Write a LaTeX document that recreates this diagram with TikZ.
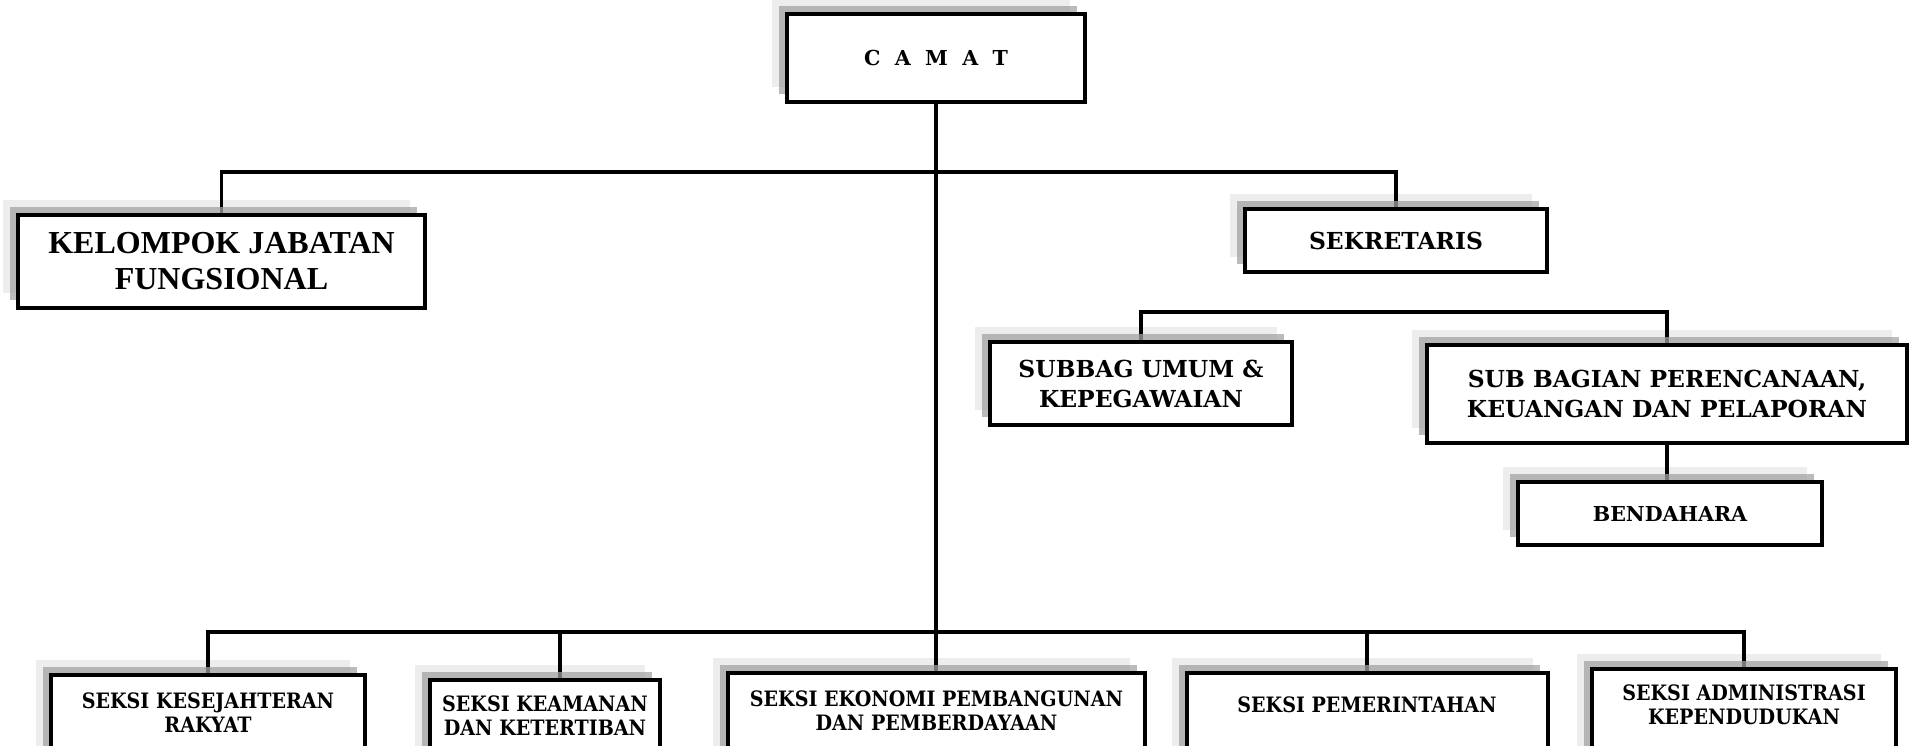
\documentclass[tikz,border=0pt]{standalone}
\usepackage{fontspec}
\setmainfont{DejaVu Serif}
\newfontfamily\timesfont{Liberation Serif}
\newfontfamily\narrowfont{DejaVu Serif}[FakeStretch=0.9]
\usepackage{tikz}
\usetikzlibrary{shadows,backgrounds,calc}

\tikzset{
  unit/.style={draw, line width=2pt, fill=white, align=center, inner sep=0pt,
    copy shadow={shadow xshift=-7.5pt, shadow yshift=7.5pt, draw=none, fill=black, fill opacity=0.07},
    copy shadow={shadow xshift=-4pt, shadow yshift=4pt, draw=none, fill=black!36, fill opacity=0.74}},
  seksi/.style={unit, anchor=north, inner xsep=0pt, inner ysep=#1, text depth=40pt,
    font=\narrowfont\bfseries\fontsize{10.6}{12}\selectfont},
  link/.style={line width=1.8pt}
}

\begin{document}
\begin{tikzpicture}[x=0.5pt,y=-0.5pt]
  \useasboundingbox (0,0) rectangle (1910,745);
  \node[unit, minimum width=149pt, minimum height=44pt, font=\bfseries\fontsize{10.3}{12}\selectfont] (camat) at (936,58) {C~~A~~M~~A~~T};
  \node[unit, minimum width=203.5pt, minimum height=46.5pt, font=\timesfont\bfseries\fontsize{16}{18}\selectfont] (kjf) at (221.5,261.5) {KELOMPOK JABATAN\\FUNGSIONAL};
  \node[unit, minimum width=151pt, minimum height=31.5pt, font=\bfseries\fontsize{11.7}{14}\selectfont] (sekretaris) at (1396,240.5) {SEKRETARIS};
  \node[unit, minimum width=151pt, minimum height=41.5pt, font=\bfseries\fontsize{11.7}{15}\selectfont] (subbag) at (1141,383.5) {SUBBAG UMUM \&\\KEPEGAWAIAN};
  \node[unit, minimum width=240pt, minimum height=49pt, font=\bfseries\fontsize{11.7}{15}\selectfont] (perencanaan) at (1667,394) {SUB BAGIAN PERENCANAAN,\\KEUANGAN DAN PELAPORAN};
  \node[unit, minimum width=152pt, minimum height=31.5pt, font=\bfseries\fontsize{10.3}{12}\selectfont] (bendahara) at (1670,513.5) {BENDAHARA};
  % seksi
  \node[seksi=9pt, minimum width=157pt] (kesra) at (208,673) {SEKSI KESEJAHTERAN\\RAKYAT};
  \node[seksi=8pt, minimum width=115pt] (trantib) at (545,678) {SEKSI KEAMANAN\\DAN KETERTIBAN};
  \node[seksi=9pt, minimum width=208.5pt] (ekonomi) at (936.5,671) {SEKSI EKONOMI PEMBANGUNAN\\DAN PEMBERDAYAAN};
  \node[seksi=12pt, minimum width=180.5pt] (pemerintahan) at (1367,671) {SEKSI PEMERINTAHAN};
  \node[seksi=8pt, minimum width=152pt] (adminduk) at (1744,667) {SEKSI ADMINISTRASI\\KEPENDUDUKAN};

  \begin{scope}[on background layer]
    \coordinate (top) at (936,172);
    \coordinate (mid) at (1400,312);
    \coordinate (low) at (936,632);
    \draw[link] (camat.south) -- (camat.south |- ekonomi.north);
    \draw[link] (kjf.north) |- (top) -| (sekretaris.north);
    \draw[link] (subbag.north) |- (mid) -| (perencanaan.north);
    \draw[link] (perencanaan.south) -- (perencanaan.south |- bendahara.north);
    \draw[link] (kesra.north) |- (low) -| (adminduk.north);
    \draw[link] (pemerintahan.north) -- (pemerintahan.north |- low);
    \path (trantib.north) ++(15,0) coordinate (tdrop);
    \draw[link] (tdrop) -- (tdrop |- low);
  \end{scope}
\end{tikzpicture}
\end{document}
